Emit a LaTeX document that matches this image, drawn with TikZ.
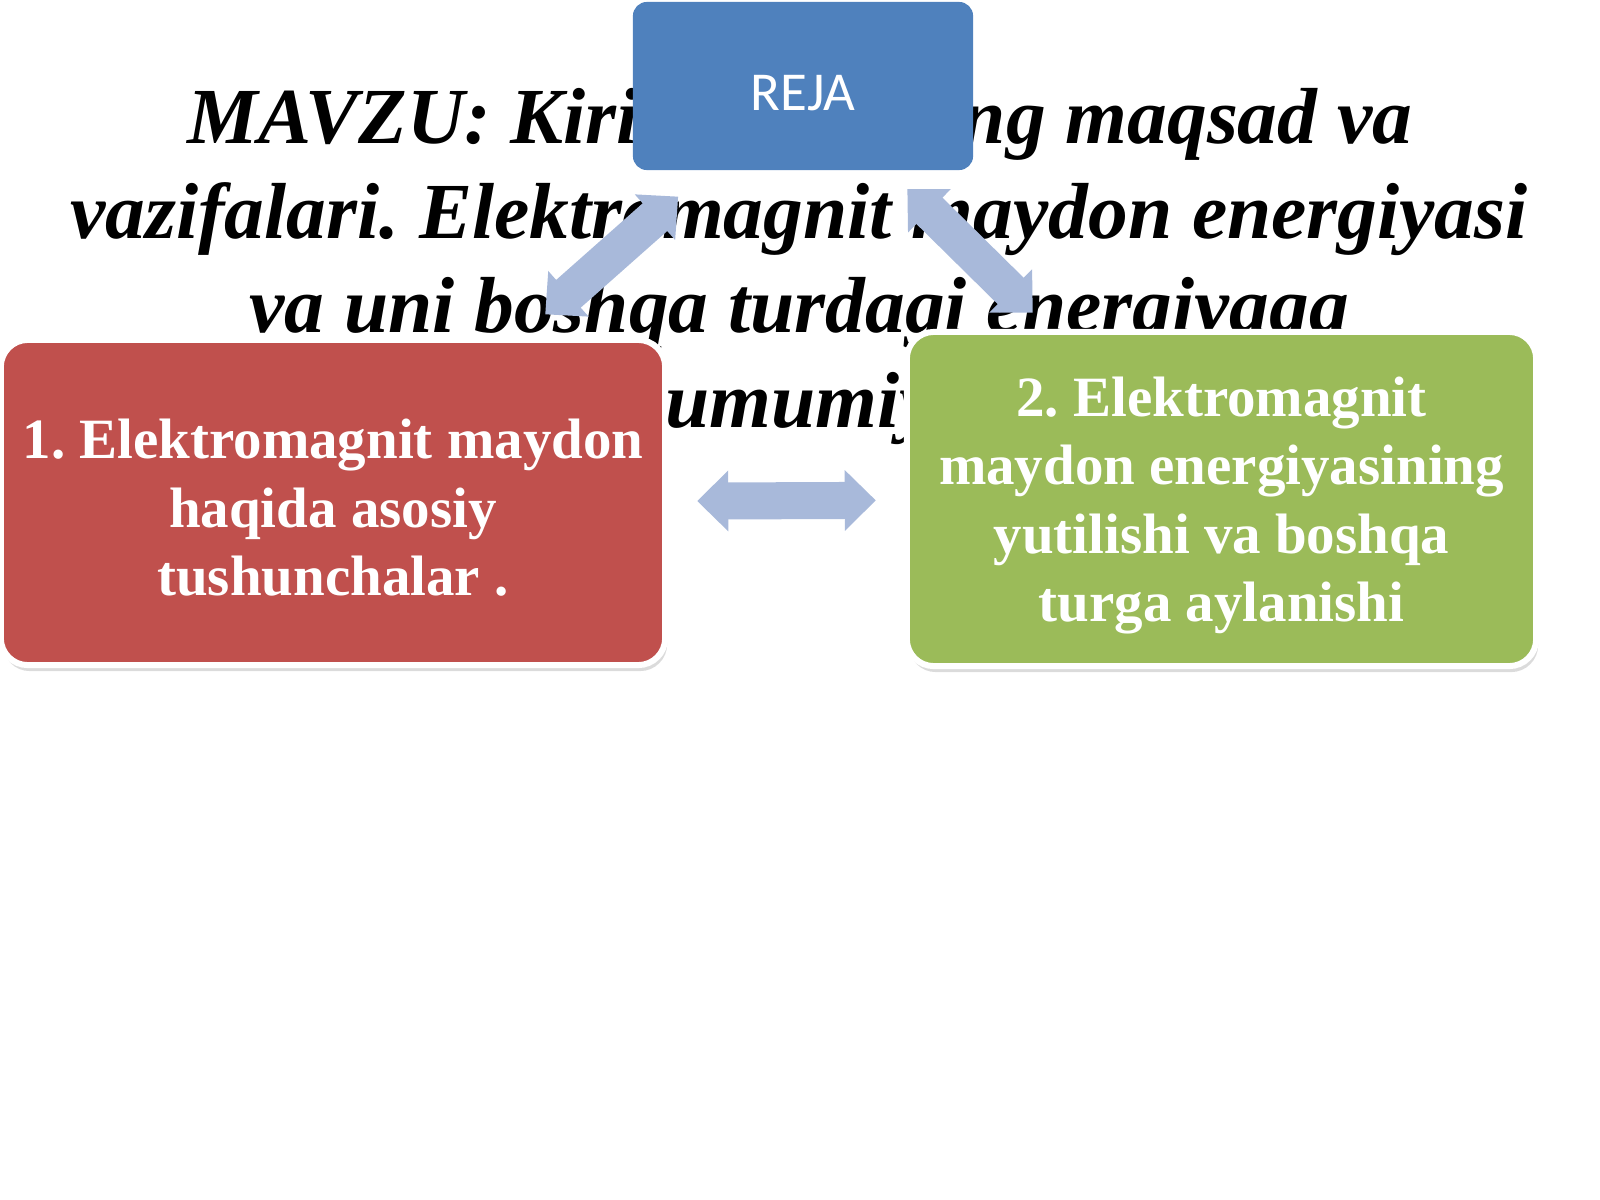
\documentclass[tikz,border=0pt]{standalone}
\usepackage{fontspec}
\setmainfont{Liberation Serif}
\newfontfamily\rejafont{Carlito}
\usetikzlibrary{arrows.meta,shadows}
\definecolor{rejablue}{RGB}{79,129,189}
\definecolor{planred}{RGB}{192,80,77}
\definecolor{plangreen}{RGB}{155,187,89}
\definecolor{linkblue}{RGB}{168,185,218}
\frenchspacing

\begin{document}
\begin{tikzpicture}[
    x = 0.01cm, y = -0.01cm,
      topic/.style={anchor=base, inner sep=0pt, font=\fontsize{22.6}{26}\selectfont\bfseries\itshape},
      rejabox/.style={fill=rejablue, rectangle, rounded corners=0.14cm, minimum width=3.4cm, minimum height=1.68cm, text height=0.49cm, text=white, font=\rejafont\fontsize{15.6}{18}\selectfont},
      planbox/.style={draw=white, line width=0.06cm, rectangle, rounded corners=0.27cm, text=white, align=center, drop shadow={shadow xshift=0.02cm, shadow yshift=-0.06cm, fill=black!40, opacity=0.35}, font=\fontsize{16.2}{19.5}\selectfont\bfseries},
      link/.style={{Triangle[width=0.59cm, length=0.31cm]}-{Triangle[width=0.59cm, length=0.31cm]}, line width=0.37cm, color=linkblue}
  ]
      \useasboundingbox (0, 0) rectangle (1600, 1200);

      % Topic
      \node (topic1a) at (187, 143) [topic, anchor=base west] {MAVZU: Kirish};
      \node (topic1b) at (1413, 143) [topic, anchor=base east] {ning maqsad va};
      \node (topic2) at (799, 238) [topic] {vazifalari. Elektromagnit maydon energiyasi};
      \node (topic3) at (799, 332) [topic] {va uni boshqa turdagi energiyaga};
      \node (topic4) at (665, 427) [topic, anchor=base west] {umumiy};

      % Reja
      \node (reja) at (803, 86) [rejabox] {REJA};

      % Plan items
      \node (first) at (333, 502.5) [planbox, fill=planred, minimum width=6.64cm, minimum height=3.25cm, text height=1.875cm] {1. Elektromagnit maydon\\haqida asosiy\\tushunchalar .};
      \node (second) at (1221.5, 499) [planbox, fill=plangreen, minimum width=6.29cm, minimum height=3.34cm, text height=2.58cm] {2. Elektromagnit\\maydon energiyasining\\yutilishi va boshqa\\turga aylanishi};

      % Arrows
      \draw[link, shorten <=0.39cm, shorten >=0.34cm] (reja) -- (first);
      \draw[link, shorten <=0.26cm, shorten >=0.23cm] (reja) -- (second);
      \draw[link, shorten <=0.29cm, shorten >=0.28cm] (first) -- (second);
  \end{tikzpicture}
\end{document}
